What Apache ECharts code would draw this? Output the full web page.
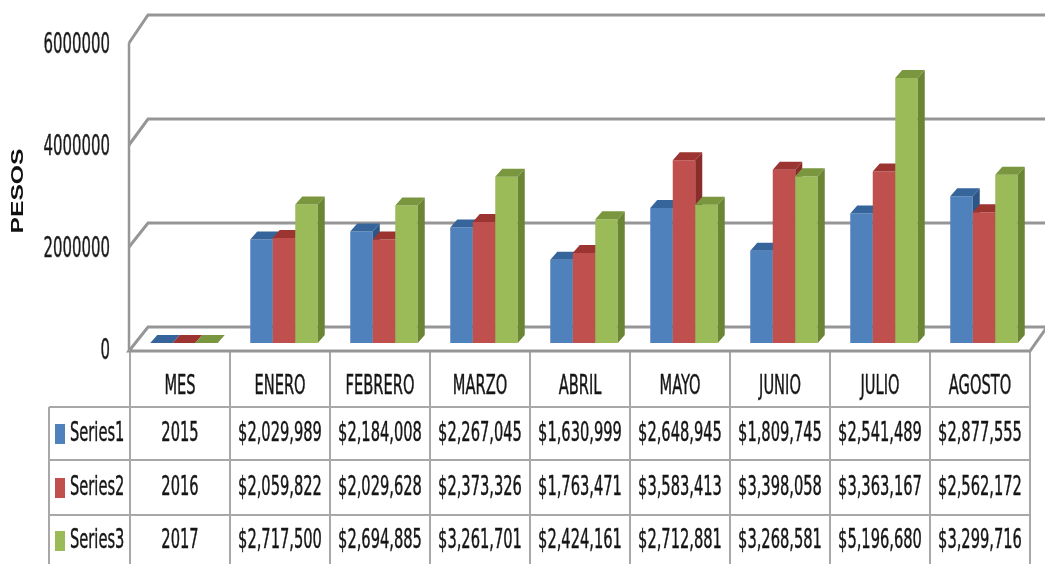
<!DOCTYPE html>
<html>
<head>
<meta charset="utf-8">
<title>Pesos por mes</title>
<script src="https://cdn.jsdelivr.net/npm/echarts@6/dist/echarts.min.js"></script>
<style>
  html, body { margin: 0; padding: 0; background: #fff; }
  #chart { width: 1045px; height: 564px; }
</style>
</head>
<body>
<div id="chart"></div>
<script>
// datos
const months = ['MES', 'ENERO', 'FEBRERO', 'MARZO', 'ABRIL', 'MAYO', 'JUNIO', 'JULIO', 'AGOSTO'];
const seriesNames = ['Series1', 'Series2', 'Series3'];
const series1 = [2015, 2029989, 2184008, 2267045, 1630999, 2648945, 1809745, 2541489, 2877555];
const series2 = [2016, 2059822, 2029628, 2373326, 1763471, 3583413, 3398058, 3363167, 2562172];
const series3 = [2017, 2717500, 2694885, 3261701, 2424161, 2712881, 3268581, 5196680, 3299716];
const yTicks = [0, 2000000, 4000000, 6000000];
const yTitle = 'PESOS';

const allSeries = [series1, series2, series3];
const colors = [
  { front: '#4f81bd', top: '#35659b', side: '#2d5585' },
  { front: '#c0504d', top: '#9c3431', side: '#8a2c2a' },
  { front: '#9bbb59', top: '#7a963f', side: '#6a8533' }
];

// layout
const GRID_LEFT = 130, GRID_TOP = 37, GRID_H = 306, COL_W = 100;
const BAR_W = 22.5, SHIFT = 4, DX = 7, DY = -8;
const NARROW = '"Liberation Sans Narrow", "DejaVu Sans Condensed", "Liberation Sans", sans-serif';
const lineColor = '#969696';
const tableLine = '#a8a8a8';

function fmt(v, i) {
  if (i === 0) return String(v);
  return '$' + v.toLocaleString('en-US');
}

function barRenderer(si) {
  return function (params, api) {
    const c = colors[si];
    const top = api.coord([api.value(0), api.value(1)]);
    const base = api.coord([api.value(0), 0]);
    const x0 = top[0] + (si - 1.5) * BAR_W + SHIFT;
    const x1 = x0 + BAR_W;
    const yt = top[1], yb = base[1];
    return {
      type: 'group',
      children: [
        { type: 'rect', shape: { x: x0, y: yt, width: BAR_W, height: yb - yt }, style: { fill: c.front } },
        { type: 'polygon', shape: { points: [[x1, yt], [x1 + DX, yt + DY], [x1 + DX, yb + DY], [x1, yb]] }, style: { fill: c.side } },
        { type: 'polygon', shape: { points: [[x0, yt], [x0 + DX, yt + DY], [x1 + DX, yt + DY], [x1, yt]] }, style: { fill: c.top } }
      ]
    };
  };
}

// paredes, piso y etiquetas del eje
function wallRenderer(params, api) {
  const v = api.value(1);
  const cs = params.coordSys;
  const y = api.coord([0, v])[1];
  const y0 = api.coord([0, 0])[1];
  const yF = y + 6, yB = y - 16 - v / 1e6;
  const xF = cs.x - 1, xB = cs.x + 18;
  const xR = cs.x + cs.width;
  const children = [];
  if (v === 0) {
    children.push({
      type: 'polygon',
      shape: { points: [[xF, yF + 2], [xB, yB], [1060, yB], [xR + 17, yB], [xR, yF + 2]] },
      style: { fill: '#fff', stroke: lineColor, lineWidth: 3 }
    });
  } else {
    children.push({
      type: 'polyline',
      shape: { points: [[xF, yF], [xB, yB], [1060, yB]] },
      style: { fill: null, stroke: lineColor, lineWidth: 3 }
    });
  }
  if (v === yTicks[yTicks.length - 1]) {
    children.push({
      type: 'line',
      shape: { x1: xF, y1: yF, x2: xF, y2: y0 + 8 },
      style: { stroke: lineColor, lineWidth: 2.5 }
    });
  }
  children.push({
    type: 'text',
    x: 110, y: y + 9, scaleX: 0.81, scaleY: 1.35,
    style: { text: String(v), font: '20.5px ' + NARROW, fill: '#1a1a1a', stroke: '#1a1a1a', lineWidth: 0.3, align: 'right', verticalAlign: 'middle' }
  });
  return { type: 'group', children: children };
}

// tabla de datos
const ROW_TOP = 352, HEAD_BOT = 407;
const rowLines = [407, 460, 515, 570];
const rowText = [434, 488, 541];
const TABLE_RIGHT = GRID_LEFT + COL_W * months.length;
const graphics = [];
function hline(y, x1, x2) {
  graphics.push({ type: 'line', shape: { x1: x1, y1: y, x2: x2, y2: y }, style: { stroke: tableLine, lineWidth: 2 } });
}
function vline(x, y1, y2) {
  graphics.push({ type: 'line', shape: { x1: x, y1: y1, x2: x, y2: y2 }, style: { stroke: tableLine, lineWidth: 2 } });
}
function cellText(txt, x, y, align) {
  graphics.push({
    type: 'text', x: x, y: y, scaleX: 0.88, scaleY: 1.4,
    style: { text: txt, font: '18.5px ' + NARROW, fill: '#151515', stroke: '#151515', lineWidth: 0.3, align: align || 'center', verticalAlign: 'middle' }
  });
}
rowLines.forEach(function (y) { hline(y, 49, TABLE_RIGHT); });
vline(49, HEAD_BOT, 570);
for (let k = 0; k <= months.length; k++) vline(GRID_LEFT + k * COL_W, ROW_TOP, 570);
months.forEach(function (m, i) { cellText(m, GRID_LEFT + COL_W * (i + 0.5), 387); });
allSeries.forEach(function (vals, si) {
  graphics.push({ type: 'rect', shape: { x: 55, y: rowText[si] - 10, width: 10, height: 20 }, style: { fill: colors[si].front } });
  cellText(seriesNames[si], 70, rowText[si], 'left');
  vals.forEach(function (v, i) { cellText(fmt(v, i), GRID_LEFT + COL_W * (i + 0.5), rowText[si]); });
});
graphics.push({
  type: 'text', x: 18, y: 191, rotation: Math.PI / 2, scaleX: 1.45,
  style: { text: yTitle, font: 'bold 17px "Liberation Sans", Arial, sans-serif', fill: '#111', align: 'center', verticalAlign: 'middle' }
});

const chart = echarts.init(document.getElementById('chart'));
const option = {
  animation: false,
  grid: { left: GRID_LEFT, top: GRID_TOP, width: COL_W * months.length, height: GRID_H },
  xAxis: { type: 'category', data: months, show: false },
  yAxis: { type: 'value', min: 0, max: 6000000, interval: 2000000, show: false },
  graphic: graphics,
  series: [
    {
      type: 'custom', name: 'walls', z: 1, silent: true,
      renderItem: wallRenderer,
      encode: { x: 0, y: 1 },
      data: yTicks.map(function (v) { return [0, v]; })
    }
  ].concat(allSeries.map(function (vals, si) {
    return {
      type: 'custom', name: seriesNames[si], z: 2,
      renderItem: barRenderer(si),
      encode: { x: 0, y: 1 },
      data: vals.map(function (v, i) { return [i, v]; })
    };
  }))
};
chart.setOption(option);
</script>
</body>
</html>
